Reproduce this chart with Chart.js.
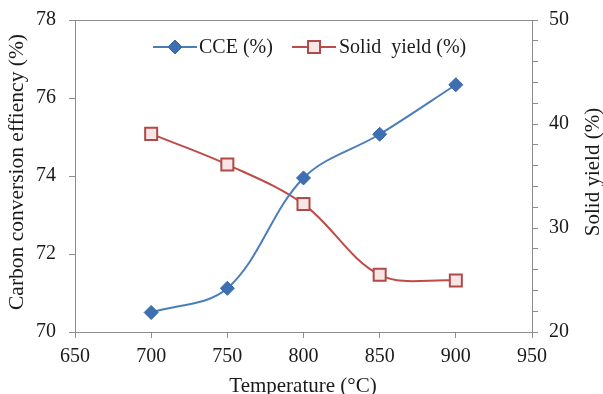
<!DOCTYPE html>
<html><head><meta charset="utf-8">
<script src="https://cdn.jsdelivr.net/npm/chart.js@4.4.1/dist/chart.umd.min.js"></script>
<style>html,body{margin:0;padding:0;background:#fff;}#wrap{width:603px;height:394px;position:relative;}</style>
</head><body><div id="wrap"><canvas id="c" width="603" height="394"></canvas></div>
<script>
const temperatures = [700, 750, 800, 850, 900];
const cceValues = [70.5, 71.12, 73.95, 75.07, 76.34];
const solidYieldValues = [39.05, 36.1, 32.3, 25.5, 24.95];
const xTicks = [650, 700, 750, 800, 850, 900, 950];
const leftTicks = [70, 72, 74, 76, 78];
const rightTicks = [20, 30, 40, 50];
const titles = {x: 'Temperature (°C)', y: 'Carbon conversion effiency (%)', y1: 'Solid yield (%)'};

const FONT = "'Liberation Serif', 'Times New Roman', serif";
const AX = '#8c8c8c';
const TXT = '#1a1a1a';
const blue = '#4a7ebb', red = '#be4b48';

const legendPlugin = {
  id: 'inLegend',
  afterDraw(chart) {
    const ctx = chart.ctx, a = chart.chartArea;
    ctx.save();
    ctx.strokeStyle = AX; ctx.lineWidth = 1;
    ctx.beginPath(); ctx.moveTo(a.left, Math.round(a.top) + 0.5); ctx.lineTo(a.right, Math.round(a.top) + 0.5); ctx.stroke();
    // axis titles
    ctx.fillStyle = TXT; ctx.textAlign = 'center'; ctx.textBaseline = 'middle';
    ctx.font = '21px ' + FONT;
    ctx.fillText(titles.x, 303, 386);
    ctx.font = '21.5px ' + FONT;
    ctx.save(); ctx.translate(17, 172); ctx.rotate(-Math.PI / 2); ctx.fillText(titles.y, 0, 0); ctx.restore();
    ctx.font = '21px ' + FONT;
    ctx.save(); ctx.translate(593, 172); ctx.rotate(-Math.PI / 2); ctx.fillText(titles.y1, 0, 0); ctx.restore();
    // legend
    const items = [
      {ds: chart.data.datasets[0], x0: 153, x1: 197, tx: 199},
      {ds: chart.data.datasets[1], x0: 292, x1: 336, tx: 339}
    ];
    const y = 47;
    ctx.textAlign = 'left';
    ctx.font = '20px ' + FONT;
    items.forEach(it => {
      ctx.strokeStyle = it.ds.borderColor; ctx.lineWidth = 2;
      ctx.beginPath(); ctx.moveTo(it.x0, y); ctx.lineTo(it.x1, y); ctx.stroke();
      ctx.fillStyle = it.ds.pointBackgroundColor; ctx.strokeStyle = it.ds.pointBorderColor; ctx.lineWidth = it.ds.pointBorderWidth;
      Chart.helpers.drawPoint(ctx, {pointStyle: it.ds.pointStyle, radius: it.ds.pointRadius, borderWidth: it.ds.pointBorderWidth, rotation: 0}, (it.x0 + it.x1) / 2, y);
      ctx.fillStyle = TXT;
      ctx.fillText(it.ds.label, it.tx, y + 1);
    });
    ctx.restore();
  }
};

function fitV(w) {
  return s => { s.width = w; s.paddingTop = 0; s.paddingBottom = 0; };
}

new Chart(document.getElementById('c'), {
  type: 'line',
  data: {
    datasets: [
      {label: 'CCE (%)', data: temperatures.map((t, i) => ({x: t, y: cceValues[i]})), yAxisID: 'y',
       borderColor: blue, borderWidth: 2, tension: 0.35, pointStyle: 'rectRot', pointRadius: 7,
       pointBackgroundColor: '#3f6fb3', pointBorderColor: '#3a66a6', pointBorderWidth: 1},
      {label: 'Solid  yield (%)', data: temperatures.map((t, i) => ({x: t, y: solidYieldValues[i]})), yAxisID: 'y1',
       borderColor: red, borderWidth: 2, tension: 0.35, pointStyle: 'rect', pointRadius: 8.5,
       pointBackgroundColor: '#f7e6e5', pointBorderColor: '#b04a47', pointBorderWidth: 2}
    ]
  },
  options: {
    responsive: false, animation: false,
    layout: {padding: {top: 20, left: 0, right: 0, bottom: 0}},
    plugins: {legend: {display: false}, tooltip: {enabled: false}},
    scales: {
      x: {type: 'linear', min: 650, max: 950,
          afterBuildTicks: s => { s.ticks = xTicks.map(v => ({value: v})); },
          afterFit: s => { s.height = 62; s.paddingLeft = 0; s.paddingRight = 0; },
          grid: {drawOnChartArea: false, drawTicks: true, tickLength: 6, color: AX},
          border: {color: AX, width: 1},
          ticks: {font: {family: FONT, size: 20}, color: TXT, padding: 7, maxRotation: 0, autoSkip: false},
          title: {display: false}},
      y: {position: 'left', min: 70, max: 78,
          afterBuildTicks: s => { s.ticks = leftTicks.map(v => ({value: v})); },
          afterFit: fitV(75),
          grid: {drawOnChartArea: false, drawTicks: true, tickLength: 6, color: AX},
          border: {color: AX, width: 1},
          ticks: {font: {family: FONT, size: 20}, color: TXT, padding: 13, autoSkip: false},
          title: {display: false}},
      y1: {position: 'right', min: 20, max: 50,
          afterBuildTicks: s => { const t = []; for (let v = 20; v <= 50; v += 2) t.push({value: v}); s.ticks = t; },
          afterFit: fitV(71),
          grid: {drawOnChartArea: false, drawTicks: true, tickLength: 6, color: AX},
          border: {color: AX, width: 1},
          ticks: {font: {family: FONT, size: 20}, color: TXT, padding: 11, autoSkip: false,
                  callback: v => rightTicks.includes(v) ? String(v) : ''},
          title: {display: false}}
    }
  },
  plugins: [legendPlugin]
});
</script></body></html>
